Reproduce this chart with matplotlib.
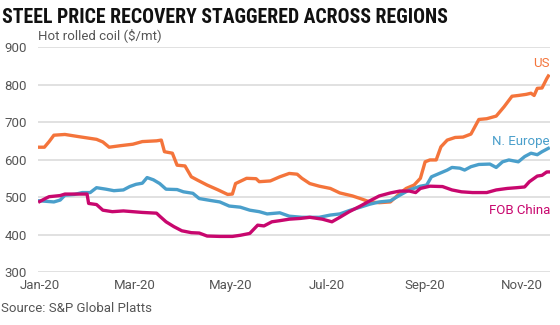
import matplotlib
matplotlib.use('Agg')
import matplotlib.pyplot as plt
import matplotlib.dates as mdates
import pandas as pd

# Данные (Hot rolled coil, $/mt)
us_dates = ['2020-01-01', '2020-01-04', '2020-01-07', '2020-01-10', '2020-01-17', '2020-01-26',
            '2020-02-06', '2020-02-10', '2020-02-14', '2020-02-21', '2020-02-29', '2020-03-06',
            '2020-03-15', '2020-03-18', '2020-03-20', '2020-03-25', '2020-03-28', '2020-04-02',
            '2020-04-06', '2020-04-10', '2020-04-16', '2020-04-23', '2020-04-29', '2020-05-02',
            '2020-05-04', '2020-05-11', '2020-05-17', '2020-05-19', '2020-05-26', '2020-06-01',
            '2020-06-07', '2020-06-12', '2020-06-15', '2020-06-20', '2020-06-26', '2020-07-03',
            '2020-07-09', '2020-07-17', '2020-07-22', '2020-07-28', '2020-08-03', '2020-08-10',
            '2020-08-16', '2020-08-20', '2020-08-25', '2020-08-29', '2020-09-01', '2020-09-04',
            '2020-09-08', '2020-09-11', '2020-09-15', '2020-09-20', '2020-09-25', '2020-09-30',
            '2020-10-05', '2020-10-10', '2020-10-16', '2020-10-21', '2020-10-26', '2020-10-30',
            '2020-11-04', '2020-11-07', '2020-11-09', '2020-11-11', '2020-11-14', '2020-11-17',
            '2020-11-18']
us_vals = [633, 633, 648, 665, 667, 661,
           654, 647, 633, 637, 641, 648,
           650, 652, 621, 617, 585, 583,
           554, 545, 532, 519, 507, 508,
           536, 550, 549, 541, 543, 554,
           563, 561, 550, 536, 529, 523,
           511, 503, 496, 487, 485, 487,
           510, 523, 532, 550, 594, 599,
           599, 634, 652, 659, 660, 668,
           707, 709, 716, 741, 769, 771,
           774, 777, 771, 790, 791, 816,
           823]

eu_dates = ['2020-01-01', '2020-01-07', '2020-01-10', '2020-01-14', '2020-01-17', '2020-01-23',
            '2020-01-28', '2020-02-02', '2020-02-06', '2020-02-12', '2020-02-17', '2020-02-23',
            '2020-02-27', '2020-03-02', '2020-03-06', '2020-03-09', '2020-03-13', '2020-03-17',
            '2020-03-21', '2020-03-28', '2020-04-01', '2020-04-07', '2020-04-11', '2020-04-18',
            '2020-04-24', '2020-04-30', '2020-05-07', '2020-05-13', '2020-05-19', '2020-05-24',
            '2020-06-01', '2020-06-07', '2020-06-15', '2020-06-26', '2020-07-03', '2020-07-09',
            '2020-07-15', '2020-07-22', '2020-07-28', '2020-08-03', '2020-08-10', '2020-08-16',
            '2020-08-22', '2020-08-29', '2020-09-02', '2020-09-05', '2020-09-10', '2020-09-15',
            '2020-09-18', '2020-09-23', '2020-09-26', '2020-09-30', '2020-10-05', '2020-10-12',
            '2020-10-16', '2020-10-20', '2020-10-24', '2020-10-30', '2020-11-03', '2020-11-07',
            '2020-11-11', '2020-11-14', '2020-11-18']
eu_vals = [490, 488, 487, 492, 505, 507,
           512, 512, 525, 521, 517, 519,
           528, 534, 537, 552, 546, 536,
           521, 520, 514, 510, 496, 491,
           487, 476, 473, 465, 461, 455,
           458, 449, 446, 446, 452, 455,
           464, 473, 481, 487, 490, 505,
           519, 529, 532, 554, 563, 572,
           579, 577, 572, 581, 587, 588,
           579, 594, 599, 594, 608, 617,
           613, 621, 630]

cn_dates = ['2020-01-01', '2020-01-05', '2020-01-07', '2020-01-14', '2020-01-17', '2020-01-31',
            '2020-02-01', '2020-02-06', '2020-02-10', '2020-02-16', '2020-02-23', '2020-02-29',
            '2020-03-06', '2020-03-15', '2020-03-17', '2020-03-21', '2020-03-26', '2020-03-31',
            '2020-04-06', '2020-04-11', '2020-04-16', '2020-04-24', '2020-05-02', '2020-05-07',
            '2020-05-13', '2020-05-18', '2020-05-22', '2020-05-27', '2020-06-01', '2020-06-07',
            '2020-06-14', '2020-06-20', '2020-06-28', '2020-07-04', '2020-07-09', '2020-07-15',
            '2020-07-22', '2020-07-28', '2020-08-03', '2020-08-10', '2020-08-16', '2020-08-22',
            '2020-08-26', '2020-08-29', '2020-09-04', '2020-09-12', '2020-09-18', '2020-09-24',
            '2020-10-01', '2020-10-10', '2020-10-16', '2020-10-23', '2020-10-29', '2020-11-03',
            '2020-11-06', '2020-11-11', '2020-11-14', '2020-11-17', '2020-11-18']
cn_vals = [488, 497, 501, 504, 508, 508,
           483, 480, 465, 461, 463, 461,
           459, 457, 449, 434, 421, 410,
           405, 404, 396, 395, 395, 398,
           403, 425, 423, 434, 437, 441,
           443, 446, 441, 434, 446, 461,
           476, 490, 503, 511, 516, 516,
           512, 523, 529, 528, 519, 514,
           512, 512, 519, 523, 525, 527,
           541, 556, 558, 567, 567]

series = [
    ('US', us_dates, us_vals, '#f4743b'),
    ('N. Europe', eu_dates, eu_vals, '#4a9fcb'),
    ('FOB China', cn_dates, cn_vals, '#c8076e'),
]
label_pos = {'US': 855, 'N. Europe': 647, 'FOB China': 463}

yticks = [300, 400, 500, 600, 700, 800, 900]
xticks = ['2020-01-01', '2020-03-01', '2020-05-01', '2020-07-01', '2020-09-01', '2020-11-01']

# Настройки стиля
plt.rcParams['font.family'] = ['Roboto', 'DejaVu Sans']
textcolor = '#555555'
gridcolor = '#dcdcdc'

fig = plt.figure(figsize=(5.6, 3.25), dpi=100)
ax = fig.add_axes([0.068, 0.163, 0.914, 0.692])

for name, d, v, c in series:
    ax.plot(pd.to_datetime(d), v, color=c, lw=2.4, solid_joinstyle='round', zorder=3)
    ax.text(pd.Timestamp('2020-11-19'), label_pos[name], name, color=c,
            ha='right', va='center', fontsize=9.5)

ax.set_ylim(300, 900)
ax.set_yticks(yticks)
ax.set_xlim(pd.Timestamp('2019-12-31'), pd.Timestamp('2020-11-19'))
ax.set_xticks(pd.to_datetime(xticks))
ax.xaxis.set_major_formatter(mdates.DateFormatter('%b-%y'))
ax.grid(axis='y', color=gridcolor, lw=1.2)
ax.set_axisbelow(True)
for sp in ax.spines.values():
    sp.set_visible(False)
ax.tick_params(length=0, labelsize=9.5, labelcolor=textcolor, pad=8)
ax.tick_params(axis='x', pad=5)

fig.text(0.004, 0.945, 'STEEL PRICE RECOVERY STAGGERED ACROSS REGIONS',
         fontsize=14.2, fontweight='bold', color='#111111', va='center', ha='left',
         family=['Liberation Sans Narrow', 'Roboto Condensed', 'Roboto'])
fig.text(0.068, 0.893, 'Hot rolled coil ($/mt)', fontsize=9.5, color=textcolor,
         va='center', ha='left')
fig.text(0.002, 0.052, 'Source: S&P Global Platts', fontsize=9.5, color=textcolor,
         va='center', ha='left')

plt.savefig('out.png', dpi=100)
plt.close()
